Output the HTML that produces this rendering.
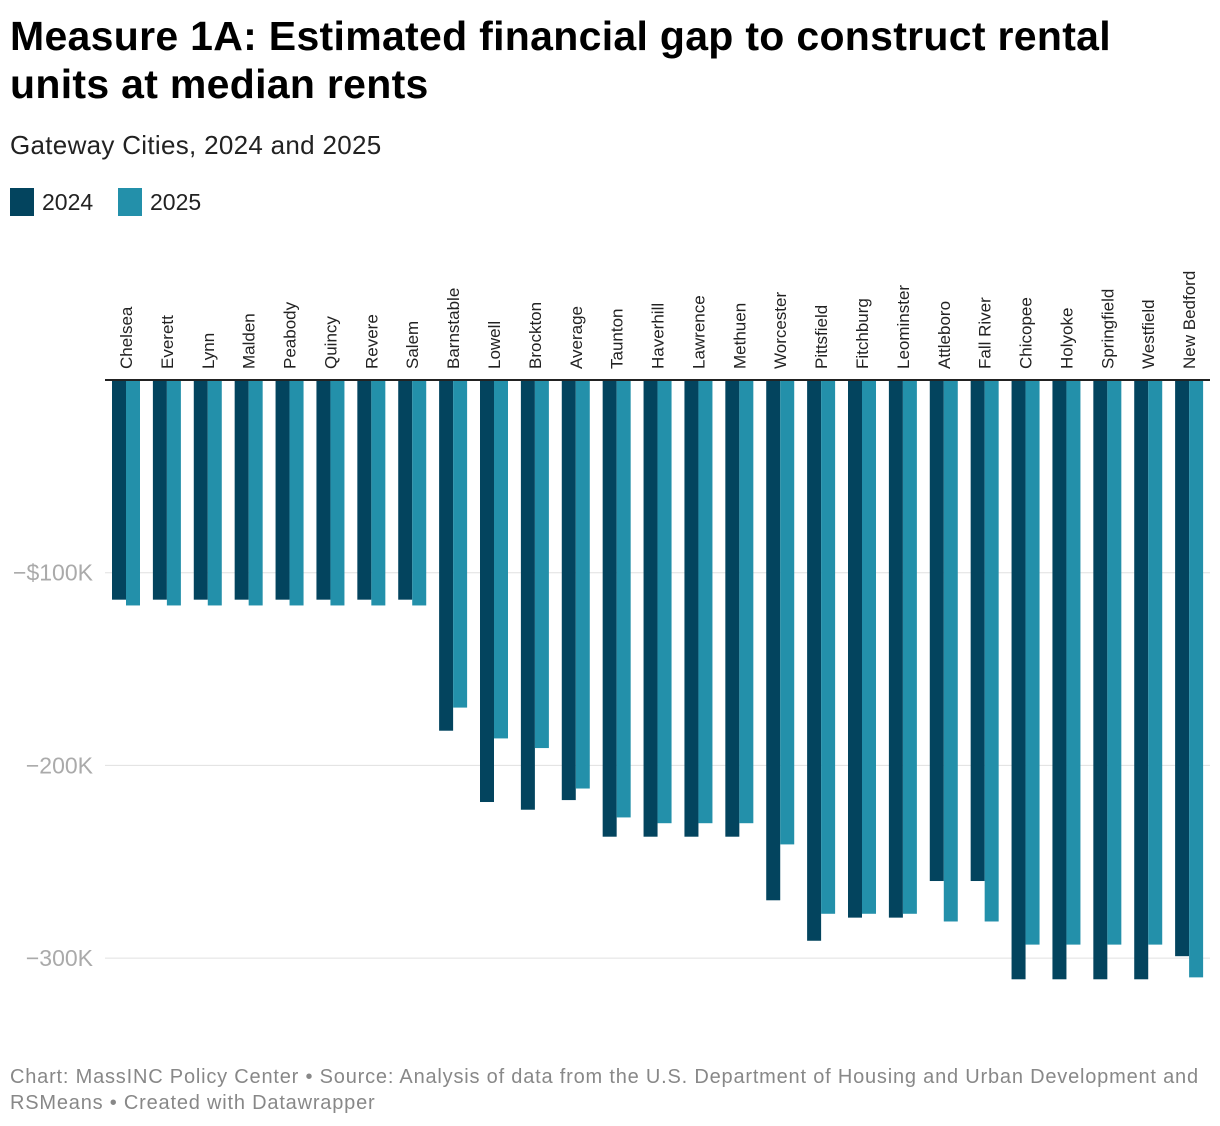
<!DOCTYPE html>
<html><head><meta charset="utf-8"><style>
body{margin:0;width:1220px;height:1126px;background:#fff;font-family:"Liberation Sans",sans-serif;position:relative;overflow:hidden}
.t{position:absolute;left:10px;top:12px;font-size:41px;font-weight:bold;line-height:48px;color:#000;letter-spacing:0.3px}
.s{position:absolute;left:10px;top:130px;font-size:26px;color:#222;letter-spacing:0.3px}
.lg{position:absolute;top:188px;height:28px;display:flex;align-items:center;font-size:23px;color:#222}
.sw{width:24px;height:28px;margin-right:8px}
.f{position:absolute;left:10px;top:1064px;font-size:20px;line-height:26px;color:#888;letter-spacing:0.8px;white-space:nowrap}
</style></head><body>
<div class="t">Measure 1A: Estimated financial gap to construct rental<br>units at median rents</div>
<div class="s">Gateway Cities, 2024 and 2025</div>
<div class="lg" style="left:10px"><div class="sw" style="background:#03445e"></div>2024</div>
<div class="lg" style="left:118px"><div class="sw" style="background:#2390aa"></div>2025</div>
<svg id="c" width="1220" height="1126" style="position:absolute;left:0;top:0"></svg>
<div class="f">Chart: MassINC Policy Center • Source: Analysis of data from the U.S. Department of Housing and Urban Development and<br>RSMeans • Created with Datawrapper</div>
<script>
const categories=["Chelsea","Everett","Lynn","Malden","Peabody","Quincy","Revere","Salem","Barnstable","Lowell","Brockton","Average","Taunton","Haverhill","Lawrence","Methuen","Worcester","Pittsfield","Fitchburg","Leominster","Attleboro","Fall River","Chicopee","Holyoke","Springfield","Westfield","New Bedford"];
const values2024=[-114,-114,-114,-114,-114,-114,-114,-114,-182,-219,-223,-218,-237,-237,-237,-237,-270,-291,-279,-279,-260,-260,-311,-311,-311,-311,-299];
const values2025=[-117,-117,-117,-117,-117,-117,-117,-117,-170,-186,-191,-212,-227,-230,-230,-230,-241,-277,-277,-277,-281,-281,-293,-293,-293,-293,-310];
const yTicks=[-100,-200,-300];
const yTickLabels=["−$100K","−200K","−300K"];
const svg=document.getElementById('c');const NS='http://www.w3.org/2000/svg';
const x0=105,x1=1209,band=(x1-x0)/categories.length,bw=14;
const y=v=>380-v*1.927;
function el(t,a){const e=document.createElementNS(NS,t);for(const k in a)e.setAttribute(k,a[k]);svg.appendChild(e);return e;}
yTicks.forEach((v,i)=>{
 const g=el('line',{x1:x0,x2:1210,y1:y(v),y2:y(v),stroke:'#e0e0e0','stroke-width':1});
 
 const t=el('text',{x:93,y:y(v)+8,'text-anchor':'end','font-size':23,fill:'#aaa','font-family':'Liberation Sans'});
 t.textContent=yTickLabels[i];
 
});
categories.forEach((c,i)=>{
 const gx=x0+i*band+7;
 const a=el('rect',{x:gx,y:380,width:bw,height:y(values2024[i])-380,fill:'#03445e'});
 
 const b=el('rect',{x:gx+bw,y:380,width:bw,height:y(values2025[i])-380,fill:'#2390aa'});
 
 const cx=gx+bw+6;
 const t=el('text',{x:cx,y:369,transform:`rotate(-90 ${cx} 369)`,'font-size':17,fill:'#222','font-family':'Liberation Sans'});
 t.textContent=c;
 
});
const ax=el('line',{x1:x0,x2:1210,y1:380,y2:380,stroke:'#222','stroke-width':2});

</script>
</body></html>
